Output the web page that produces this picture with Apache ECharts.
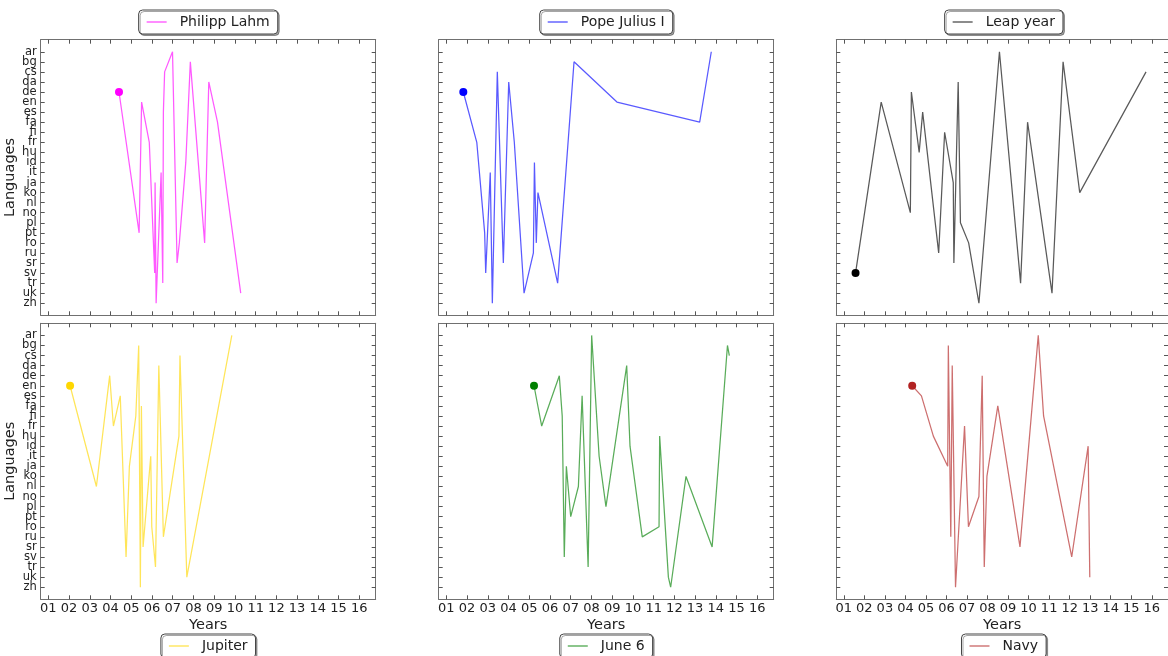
<!DOCTYPE html>
<html>
<head>
<meta charset="utf-8">
<script src="https://cdn.jsdelivr.net/npm/echarts@6/dist/echarts.min.js"></script>
<style>
html,body{margin:0;padding:0;background:#fff;}
#chart{width:1168px;height:656px;}
</style>
</head>
<body>
<div id="chart"></div>
<script>
// ---------- data ----------
const languages = ['ar','bg','cs','da','de','en','es','fa','fi','fr','hu','id','it','ja','ko','nl','no','pl','pt','ro','ru','sr','sv','tr','uk','zh'];
const yearTickValues = [1,2,3,4,5,6,7,8,9,10,11,12,13,14,15,16];
const yearTickLabels = ['01','02','03','04','05','06','07','08','09','10','11','12','13','14','15','16'];

const lahmYears = [4.41, 5.38, 5.50, 5.87, 6.13, 6.15, 6.20, 6.44, 6.52, 6.55, 6.61, 6.99, 7.21, 7.32, 7.63, 7.85, 8.54, 8.74, 9.16, 10.28];
const lahmLangs = ['de','pt','en','fr','sv','ja','zh','it','tr','es','cs','ar','sr','ro','id','bg','ro','da','fa','uk'];

const juliusYears = [1.82, 2.47, 2.85, 2.90, 3.12, 3.22, 3.46, 3.75, 4.01, 4.28, 4.75, 5.20, 5.25, 5.34, 5.42, 6.37, 7.16, 9.23, 13.22, 13.78];
const juliusLangs = ['de','fr','pt','sv','it','zh','cs','sr','da','fr','uk','ru','id','ro','ko','tr','bg','en','fa','ar'];

const leapYears = [1.57, 2.82, 4.24, 4.29, 4.67, 4.84, 5.62, 5.91, 6.33, 6.36, 6.57, 6.68, 7.08, 7.58, 8.58, 9.61, 9.95, 11.14, 11.68, 12.49, 15.72];
const leapLangs = ['sv','en','no','de','hu','es','ru','fi','ja','sr','da','pl','ro','zh','ar','tr','fa','uk','bg','ko','cs'];

const jupiterYears = [2.05, 3.32, 3.96, 4.14, 4.47, 4.75, 4.91, 5.22, 5.36, 5.44, 5.49, 5.57, 5.94, 5.99, 6.17, 6.33, 6.55, 7.30, 7.35, 7.68, 9.85];
const jupiterLangs = ['en','nl','de','fr','es','sv','ja','fi','bg','zh','fa','sr','it','ro','tr','da','ru','hu','cs','uk','ar'];

const june6Years = [5.23, 5.60, 6.45, 6.59, 6.69, 6.79, 7.00, 7.37, 7.55, 7.84, 8.01, 8.37, 8.70, 9.70, 9.86, 10.45, 11.26, 11.29, 11.71, 11.82, 12.56, 13.82, 14.56, 14.65];
const june6Langs = ['en','fr','de','fi','sv','ja','pt','nl','es','tr','ar','it','pl','da','id','ru','ro','hu','uk','zh','ko','sr','bg','cs'];

const navyYears = [4.33, 4.78, 5.36, 6.06, 6.09, 6.21, 6.28, 6.44, 6.88, 7.07, 7.58, 7.74, 7.84, 7.97, 8.50, 9.58, 10.47, 10.73, 12.10, 12.90, 12.98];
const navyLangs = ['en','es','hu','ja','bg','ru','da','zh','fr','ro','no','de','tr','ko','fa','sr','ar','fi','sv','id','uk'];

const seriesNames = ['Philipp Lahm','Pope Julius I','Leap year','Jupiter','June 6','Navy'];
const seriesColors = ['#ff00ff','#0000ff','#000000','#ffd700','#008000','#b22222'];
const seriesYears = [lahmYears, juliusYears, leapYears, jupiterYears, june6Years, navyYears];
const seriesLangs = [lahmLangs, juliusLangs, leapLangs, jupiterLangs, june6Langs, navyLangs];

// ---------- layout ----------
const FONT = 'DejaVu Sans';
const colLefts = [40.7, 438.7, 836.3];
const gridW = 335;
const rowTops = [39.7, 323.3];
const rowHeights = [275.6, 276];
const xMin = 0.633, xMax = 16.79;
const yMin = -1.2, yMax = 26.2;
const langTicks = languages.map((_, i) => i);
const langTicksEven = langTicks.filter(v => v % 2 === 0);
const langTicksOdd = langTicks.filter(v => v % 2 === 1);

const measure = document.createElement('canvas').getContext('2d');
measure.font = '14px "' + FONT + '"';

const grid = [], xAxis = [], yAxis = [], series = [], legend = [];
const legendIcon = 'path://M0,0H20V1.5H0Z M28,0H28.001V1.5H28Z';
const labelStyleY = {fontSize: 11.5, color: '#222', margin: 4, fontFamily: FONT,
  showMinLabel: true, showMaxLabel: true, hideOverlap: false,
  formatter: v => languages[Math.round(v)]};

for (let i = 0; i < 6; i++) {
  const row = Math.floor(i / 3), col = i % 3;
  grid.push({left: colLefts[col], top: rowTops[row], width: gridW, height: rowHeights[row], containLabel: false});
  const axisLine = {show: true, onZero: false, lineStyle: {color: '#707070', width: 1}};
  const tick = (vals) => ({show: true, inside: true, length: 4, customValues: vals, lineStyle: {color: '#555', width: 1}});
  const xIdx = xAxis.length;
  // bottom x
  xAxis.push({
    type: 'value', gridIndex: i, position: 'bottom', min: xMin, max: xMax,
    axisLine, axisTick: tick(yearTickValues), splitLine: {show: false},
    axisLabel: {show: row === 1, customValues: yearTickValues, showMinLabel: true, showMaxLabel: true, hideOverlap: false,
      formatter: v => yearTickLabels[yearTickValues.indexOf(Math.round(v))],
      fontSize: 13, color: '#222', margin: 3, fontFamily: FONT},
    name: row === 1 ? 'Years' : '', nameLocation: 'middle', nameGap: 18,
    nameTextStyle: {fontSize: 14.5, color: '#222', fontFamily: FONT}
  });
  // top x (ticks only)
  xAxis.push({
    type: 'value', gridIndex: i, position: 'top', min: xMin, max: xMax,
    axisLine, axisTick: tick(yearTickValues), splitLine: {show: false},
    axisLabel: {show: false, customValues: yearTickValues}
  });
  const yIdx = yAxis.length;
  // left y: line, ticks, even labels
  yAxis.push({
    type: 'value', gridIndex: i, position: 'left', inverse: true, min: yMin, max: yMax,
    axisLine, axisTick: tick(langTicks), splitLine: {show: false},
    axisLabel: Object.assign({show: col === 0, customValues: langTicksEven}, labelStyleY),
    name: col === 0 ? 'Languages' : '', nameLocation: 'middle', nameGap: 20,
    nameTextStyle: {fontSize: 14.5, color: '#222', fontFamily: FONT}
  });
  // left y: odd labels only
  if (col === 0) {
    yAxis.push({
      type: 'value', gridIndex: i, position: 'left', offset: 0, inverse: true, min: yMin, max: yMax,
      axisLine: {show: false}, axisTick: {show: false}, splitLine: {show: false},
      axisLabel: Object.assign({show: true, customValues: langTicksOdd}, labelStyleY)
    });
  }
  // right y (ticks only)
  yAxis.push({
    type: 'value', gridIndex: i, position: 'right', inverse: true, min: yMin, max: yMax,
    axisLine, axisTick: tick(langTicks), splitLine: {show: false},
    axisLabel: {show: false, customValues: langTicks}
  });

  const name = seriesNames[i], color = seriesColors[i];
  const pts = seriesYears[i].map((x, k) => [x, languages.indexOf(seriesLangs[i][k])]);
  series.push({
    type: 'line', name, xAxisIndex: xIdx, yAxisIndex: yIdx, data: pts,
    showSymbol: false, symbol: 'none', color,
    lineStyle: {color, width: 1.25, opacity: 0.65}, z: 2
  });
  series.push({
    type: 'scatter', name: name + ' start', xAxisIndex: xIdx, yAxisIndex: yIdx,
    data: [pts[0]], symbol: 'circle', symbolSize: 8, itemStyle: {color, opacity: 1}, z: 3
  });

  const textW = measure.measureText(name).width;
  const boxW = 8 + 28 + 5 + textW + 8;
  const cx = colLefts[col] + gridW / 2;
  legend.push({
    data: [{name}], left: cx - boxW / 2, top: row === 0 ? 10 : 634,
    icon: legendIcon, itemWidth: 28, itemHeight: 1.5,
    itemStyle: {opacity: 0.6},
    textStyle: {fontSize: 14, color: '#222', fontFamily: FONT},
    padding: [5, 8], backgroundColor: '#fff',
    borderColor: '#444', borderWidth: 1, borderRadius: 4,
    shadowColor: 'rgba(0,0,0,0.35)', shadowOffsetX: 1.5, shadowOffsetY: 1.5, shadowBlur: 0,
    selectedMode: false
  });
}

const chart = echarts.init(document.getElementById('chart'), null, {renderer: 'canvas'});
chart.setOption({
  backgroundColor: '#fff',
  animation: false,
  textStyle: {fontFamily: FONT},
  grid, xAxis, yAxis, series, legend
});
</script>
</body>
</html>
